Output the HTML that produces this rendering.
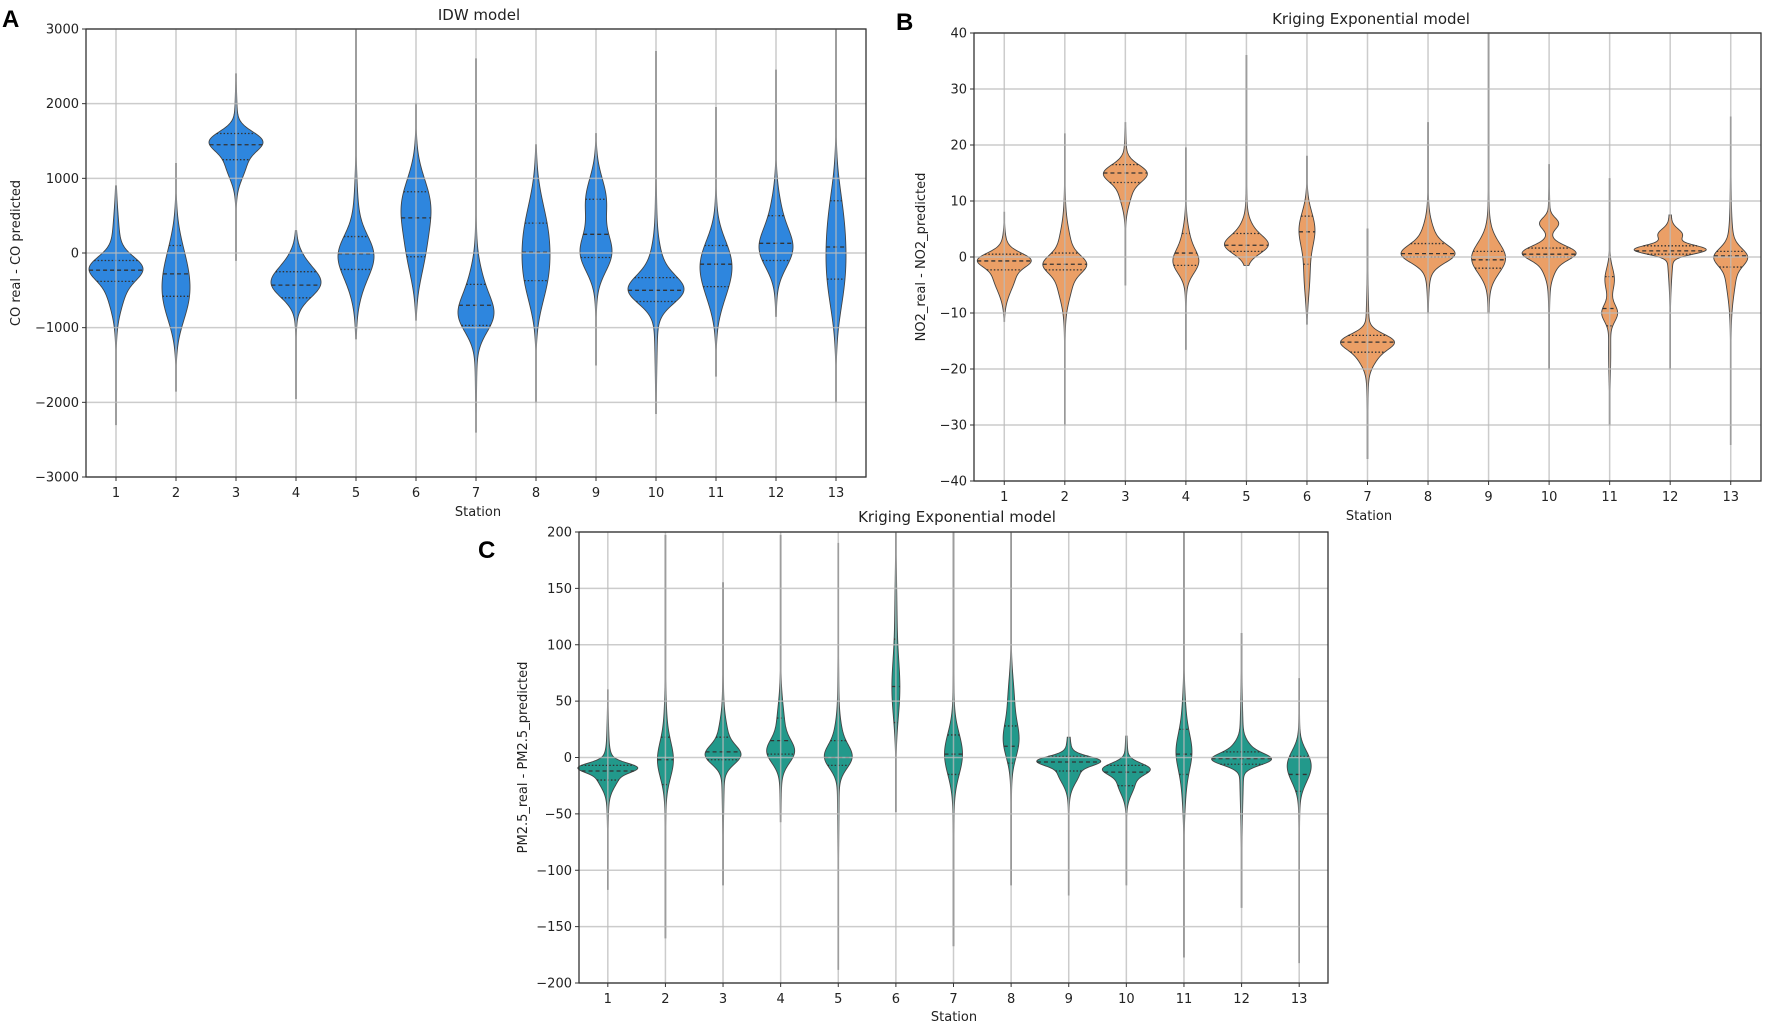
<!DOCTYPE html>
<html><head><meta charset="utf-8"><style>
html,body{margin:0;padding:0;background:#fff;}
svg{display:block;font-family:"DejaVu Sans","Liberation Sans",sans-serif;}
</style></head><body>
<svg id="s" width="1772" height="1031" xmlns="http://www.w3.org/2000/svg"></svg>
<script>
const S=document.getElementById('s');
let out='';
function panel(P){
  const {L,R,T,B,ymin,ymax,ticks,color,data,title,ylabel,tx,ty,lab,lx,ly,sx,sy,tly}=P;
  const n=13,sp=(R-L)/n;
  const Y=v=>T+(ymax-v)/(ymax-ymin)*(B-T);
  data.forEach((d,i)=>{
    const cx=L+sp*(i+0.5);
    const [mn,mx,hw,comps0,q]=d;
    const rng=mx-mn, m0=comps0[0][0];
    const comps=comps0.concat([[m0,rng/7,0.07],[m0,rng/3.5,0.02]]);
    const dens=v=>{let s=0;comps.forEach(c=>{s+=c[2]*Math.exp(-0.5*((v-c[0])/c[1])**2)});return s;};
    const N=220,pts=[];let dm=0;
    for(let k=0;k<=N;k++){const v=mn+rng*k/N;const s=dens(v);pts.push([v,s]);if(s>dm)dm=s;}
    const wAt=s=>Math.max(0.35,s/dm*hw);
    let p='';
    pts.forEach(([v,s],k)=>{p+=(k?'L':'M')+(cx+wAt(s)).toFixed(2)+','+Y(v).toFixed(2);});
    for(let k=pts.length-1;k>=0;k--){const [v,s]=pts[k];p+='L'+(cx-wAt(s)).toFixed(2)+','+Y(v).toFixed(2);}
    out+=`<path d="${p}Z" fill="${color}" stroke="#444" stroke-width="0.9"/>`;
    q.forEach((v,j)=>{const w=wAt(dens(v));out+=`<line x1="${cx-w}" x2="${cx+w}" y1="${Y(v)}" y2="${Y(v)}" stroke="#333" stroke-width="1.3" stroke-dasharray="${j==1?'4,3':'1.5,2'}"/>`;});
  });
  ticks.forEach(t=>{out+=`<line x1="${L}" x2="${R}" y1="${Y(t)}" y2="${Y(t)}" stroke="#bbb" stroke-opacity="0.75" stroke-width="1.5"/>`;
    out+=`<line x1="${L-4}" x2="${L}" y1="${Y(t)}" y2="${Y(t)}" stroke="#333"/>`;
    out+=`<text x="${L-7}" y="${Y(t)+4.5}" font-size="13" text-anchor="end" fill="#222">${t<0?'\u2212'+(-t):t}</text>`;});
  for(let i=0;i<n;i++){const cx=L+sp*(i+0.5);
    out+=`<line x1="${cx}" x2="${cx}" y1="${T}" y2="${B}" stroke="#bbb" stroke-opacity="0.75" stroke-width="1.5"/>`;
    out+=`<line x1="${cx}" x2="${cx}" y1="${B}" y2="${B+4}" stroke="#333"/>`;
    out+=`<text x="${cx}" y="${B+20}" font-size="13" text-anchor="middle" fill="#222">${i+1}</text>`;}
  out+=`<rect x="${L}" y="${T}" width="${R-L}" height="${B-T}" fill="none" stroke="#333" stroke-width="1.3"/>`;
  out+=`<text x="${tx}" y="${ty}" font-size="15" text-anchor="middle" fill="#222">${title}</text>`;
  out+=`<text x="${sx}" y="${sy}" font-size="13" text-anchor="middle" fill="#222">Station</text>`;
  out+=`<text transform="translate(${tly},${(T+B)/2}) rotate(-90)" font-size="13" text-anchor="middle" fill="#222">${ylabel}</text>`;
  out+=`<text x="${lx}" y="${ly}" font-size="24" font-weight="bold" font-family="Liberation Sans,sans-serif" fill="#000">${lab}</text>`;
}
panel({L:86,R:866,T:29,B:477,ymin:-3000,ymax:3000,ticks:[3000,2000,1000,0,-1000,-2000,-3000],color:"#2e86de",
 title:"IDW model",tx:479,ty:20,sx:478,sy:516,tly:20,ylabel:"CO real - CO predicted",lab:"A",lx:2,ly:27,
 data:[
 [-2300,900,27,[[-200,150,1],[-400,300,0.5],[300,300,0.1]],[-100,-230,-380]],
 [-1850,1200,14,[[-300,400,1],[-700,300,0.5]],[100,-280,-580]],
 [-100,2400,27,[[1500,130,1],[1200,200,0.4]],[1600,1450,1250]],
 [-1950,300,25,[[-430,180,1],[-200,200,0.4]],[-250,-430,-600]],
 [-1150,3000,18,[[0,250,1],[-300,300,0.5],[400,400,0.15]],[220,-10,-220]],
 [-900,2000,15,[[650,350,1],[0,350,0.6]],[820,470,-50]],
 [-2400,2600,18,[[-850,230,1],[-500,300,0.5]],[-420,-700,-970]],
 [-2000,1450,14,[[200,450,1],[-400,350,0.6]],[400,10,-370]],
 [-1500,1600,16,[[0,250,1],[700,300,0.7]],[720,250,-60]],
 [-2150,2700,28,[[-500,180,1],[-300,300,0.3]],[-330,-500,-650]],
 [-1650,1950,16,[[-100,300,1],[-500,300,0.5]],[100,-150,-450]],
 [-850,2450,17,[[50,250,1],[500,300,0.3]],[500,130,-100]],
 [-2000,3000,10,[[0,500,1],[600,400,0.4],[-500,400,0.4]],[700,80,-350]]]});
panel({L:974,R:1761,T:33,B:481,ymin:-40,ymax:40,ticks:[40,30,20,10,0,-10,-20,-30,-40],color:"#eb9f66",
 title:"Kriging Exponential model",tx:1371,ty:24,sx:1369,sy:520,tly:925,ylabel:"NO2_real - NO2_predicted",lab:"B",lx:896,ly:30,
 data:[
 [-11.5,8,27,[[-0.5,1.2,1],[-3,3,0.6]],[0.5,-0.7,-2.3]],
 [-30,22,22,[[-1.3,1.5,1],[0,4,0.5],[-5,3,0.3]],[0.7,-1.3,-2.3]],
 [-5,24,22,[[15,1.5,1],[12,2.5,0.3]],[16.5,15,13.3]],
 [-16.5,19.5,13,[[-1,2,1],[2,3,0.4]],[4.2,0.7,-1.5]],
 [-1.5,36,22,[[2,1.5,1],[4,2,0.4]],[4.2,2.1,1]],
 [-12,18,8,[[5,3,1],[-3,4,0.4]],[7.3,4.5,-1.3]],
 [-36,5,27,[[-15,1.3,1],[-17,2,0.5]],[-14,-15.2,-17]],
 [-10,24,27,[[0.5,1.5,1],[2,3,0.4]],[2.4,0.6,0]],
 [-10,40,17,[[-0.5,2.5,1],[1,3,0.4]],[1,-0.5,-2]],
 [-20,16.5,27,[[0.8,1.2,1],[6,1,0.4],[-1,2,0.3]],[1.6,0.5,0]],
 [-30,14,8,[[-10,1.5,1],[-4,2,0.6],[-18,4,0.1]],[-3.5,-9.2,-12.3]],
 [-20,7.5,36,[[1.3,0.8,1],[4,1,0.3]],[2,1.1,0.5]],
 [-33.5,25,17,[[0,1.5,1],[-2,4,0.4]],[1,0.2,-1.8]]]});
panel({L:579,R:1328,T:532,B:983,ymin:-200,ymax:200,ticks:[200,150,100,50,0,-50,-100,-150,-200],color:"#22998b",
 title:"Kriging Exponential model",tx:957,ty:522,sx:954,sy:1021,tly:527,ylabel:"PM2.5_real - PM2.5_predicted",lab:"C",lx:478,ly:558,
 data:[
 [-117,60,30,[[-9,4,1],[-15,10,0.5]],[-7,-12,-20]],
 [-160,197,8,[[-3,15,1],[10,25,0.3]],[18,-2,-24]],
 [-113,155,18,[[2,8,1],[15,15,0.3]],[18,5,-2]],
 [-57,197,14,[[5,10,1],[25,20,0.3]],[35,15,3]],
 [-188,190,14,[[0,10,1],[15,15,0.3]],[15,0,-7]],
 [-48,200,4,[[60,25,1],[120,40,0.3]],[105,63,31]],
 [-167,200,9,[[3,18,1]],[20,3,-15]],
 [-113,200,8,[[15,15,1],[50,20,0.4]],[28,10,-5]],
 [-122,18,32,[[-3,4,1],[-12,10,0.4]],[1,-4,-12]],
 [-113,19,24,[[-10,5,1],[-22,10,0.4]],[-7,-13,-25]],
 [-177,200,8,[[5,15,1],[30,20,0.3],[-20,20,0.3]],[25,3,-15]],
 [-133,110,30,[[-2,5,1],[5,8,0.4]],[5,-1,-6]],
 [-182,70,12,[[-12,12,1],[0,10,0.5]],[1,-15,-30]]]});
S.innerHTML=out;
</script>
</body></html>
